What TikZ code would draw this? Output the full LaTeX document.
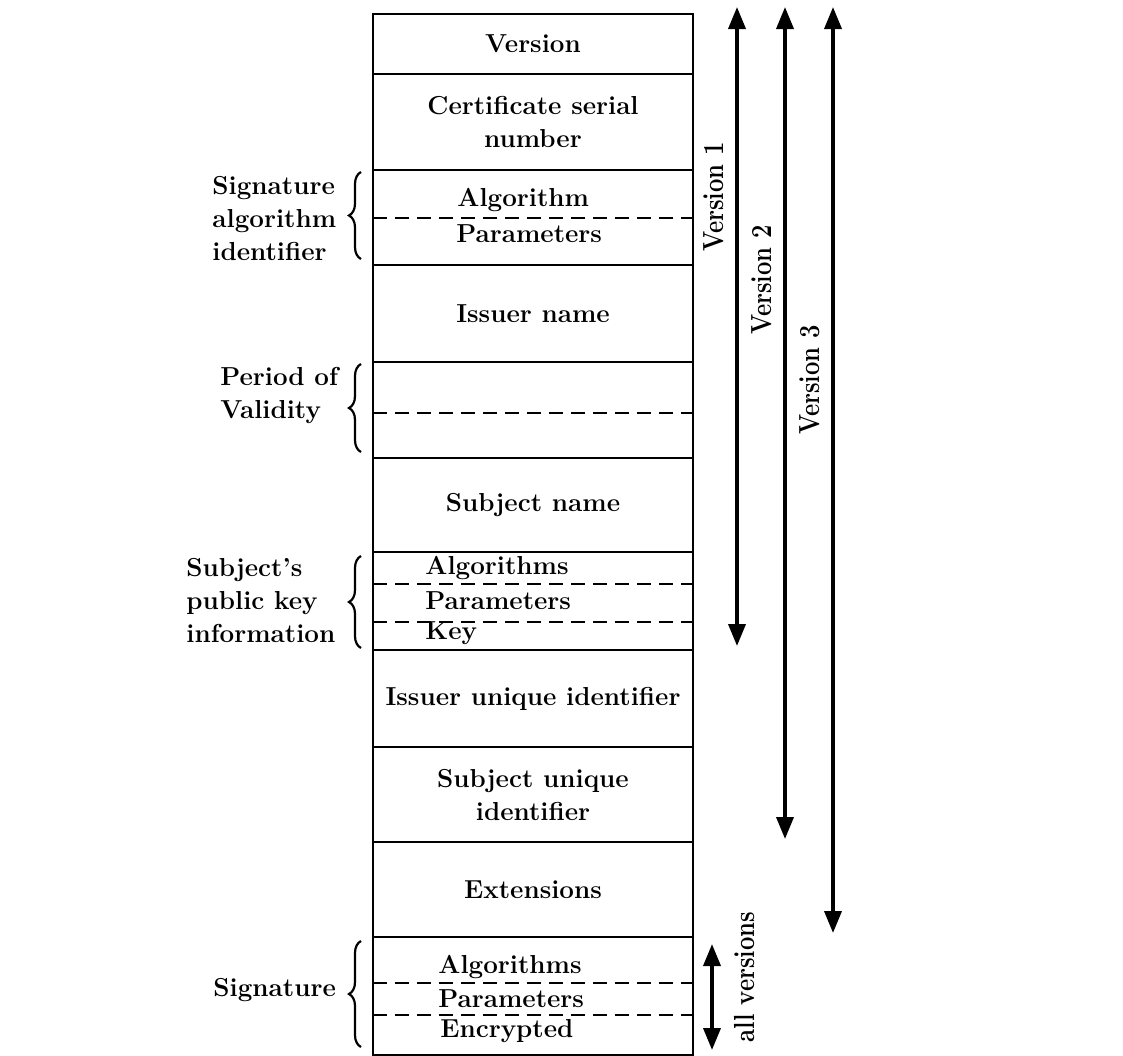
\documentclass[tikz,border=0pt]{standalone}
\usepackage{fontspec}
\usepackage{graphicx}
\usetikzlibrary{arrows.meta,decorations.pathreplacing}

\newcommand{\fieldfont}{\fontsize{13}{16.5}\selectfont\bfseries}
\newcommand{\versionfont}{\fontsize{14.5}{17}\selectfont\bfseries}
\newcommand{\narrowtext}[1]{\scalebox{0.82}[1]{#1}}

\tikzset{
  fieldbox/.style={draw, line width=1.4pt, minimum width=160pt, inner sep=0pt, outer sep=0pt, align=center, font=\fieldfont},
  divider/.style={dashed, dash pattern=on 7pt off 4pt, line width=1pt},
  fieldpart/.style={inner sep=0pt, anchor=west, font=\fieldfont},
  sidelabel/.style={align=left, inner sep=0pt, anchor=west, font=\fieldfont},
  versionspan/.style={{Triangle[length=11pt,width=8.5pt]}-{Triangle[length=11pt,width=8.5pt]}, line width=1.8pt},
  versionlabel/.style={rotate=90, inner sep=0pt, font=\versionfont},
  groupbrace/.style={decorate, decoration={brace, amplitude=6pt}, line width=1.1pt}
}

\begin{document}
\begin{tikzpicture}[x=0.5pt, y=-0.5pt]
    \fill[white] (0,0) rectangle (1123,1055);
    \useasboundingbox (0,0) rectangle (1123,1055);

    % Certificate fields
    \node[fieldbox, minimum height=30pt] (version) at (533,44) {Version};
    \node[fieldbox, minimum height=48pt] (serial) at (533,122) {Certificate serial\\number};
    \node[fieldbox, minimum height=47.5pt] (sigalg) at (533,217.5) {};
    \node[fieldbox, minimum height=48.5pt] (issuer) at (533,313.5) {Issuer name};
    \node[fieldbox, minimum height=48pt] (validity) at (533,410) {};
    \node[fieldbox, minimum height=47pt] (subject) at (533,505) {Subject name};
    \node[fieldbox, minimum height=49pt] (spki) at (533,601) {};
    \node[fieldbox, minimum height=48.5pt] (issuerid) at (533,698.5) {Issuer unique identifier};
    \node[fieldbox, minimum height=47.5pt] (subjectid) at (533,794.5) {Subject unique\\identifier};
    \node[fieldbox, minimum height=47.5pt] (extensions) at (533,889.5) {Extensions};
    \node[fieldbox, minimum height=59pt] (signature) at (533,996) {};

    % Dashed sub-fields
    \draw[divider] ([yshift=-0.25pt]sigalg.west) -- ([yshift=-0.25pt]sigalg.east);
    \draw[divider] ([yshift=-1.5pt]validity.west) -- ([yshift=-1.5pt]validity.east);
    \draw[divider] ([yshift=8.5pt]spki.west) -- ([yshift=8.5pt]spki.east);
    \draw[divider] ([yshift=-10.5pt]spki.west) -- ([yshift=-10.5pt]spki.east);
    \draw[divider] ([yshift=6.5pt]signature.west) -- ([yshift=6.5pt]signature.east);
    \draw[divider] ([yshift=-9.5pt]signature.west) -- ([yshift=-9.5pt]signature.east);

    \node[fieldpart] (sigalgalgo) at (457,200) {Algorithm};
    \node[fieldpart] (sigalgparam) at (456,234) {Parameters};
    \node[fieldpart] (spkialgo) at (425,568) {Algorithms};
    \node[fieldpart] (spkiparam) at (425,601) {Parameters};
    \node[fieldpart] (spkikey) at (425,633) {Key};
    \node[fieldpart] (sigalgo) at (438,967) {Algorithms};
    \node[fieldpart] (sigparam) at (438,999) {Parameters};
    \node[fieldpart] (sigenc) at (440,1031) {Encrypted};

    % Braces and labels on the left
    \draw[groupbrace] ([xshift=-6pt,yshift=3pt]sigalg.south west) -- ([xshift=-6pt,yshift=-1pt]sigalg.north west);
    \draw[groupbrace] ([xshift=-6pt,yshift=3pt]validity.south west) -- ([xshift=-6pt,yshift=-1pt]validity.north west);
    \draw[groupbrace] ([xshift=-6pt,yshift=1pt]spki.south west) -- ([xshift=-6pt,yshift=-2pt]spki.north west);
    \draw[groupbrace] ([xshift=-6pt,yshift=4pt]signature.south west) -- ([xshift=-6pt,yshift=-2pt]signature.north west);

    \node[sidelabel] (sigalglabel) at (212,218) {Signature\\algorithm\\identifier};
    \node[sidelabel] (validitylabel) at (220,395) {Period of\\Validity};
    \node[sidelabel] (spkilabel) at (186,600) {Subject's\\public key\\information};
    \node[sidelabel] (siglabel) at (213,990) {Signature};

    % Version ranges
    \coordinate (v1top) at (737,7);
    \coordinate (v1end) at (737,646);
    \coordinate (v2top) at (785,7);
    \coordinate (v2end) at (785,839);
    \coordinate (v3top) at (833,7);
    \coordinate (v3end) at (833,933);
    \coordinate (alltop) at (712,944);
    \coordinate (allend) at (712,1050);
    \draw[versionspan] (v1top) -- (v1end);
    \draw[versionspan] (v2top) -- (v2end);
    \draw[versionspan] (v3top) -- (v3end);
    \draw[versionspan] (alltop) -- (allend);

    \node[versionlabel] (v1label) at (714,197) {\narrowtext{Version 1}};
    \node[versionlabel] (v2label) at (762,280) {\narrowtext{Version 2}};
    \node[versionlabel] (v3label) at (810,380) {\narrowtext{Version 3}};
    \node[versionlabel] (alllabel) at (745,977) {\narrowtext{all versions}};
\end{tikzpicture}
\end{document}
